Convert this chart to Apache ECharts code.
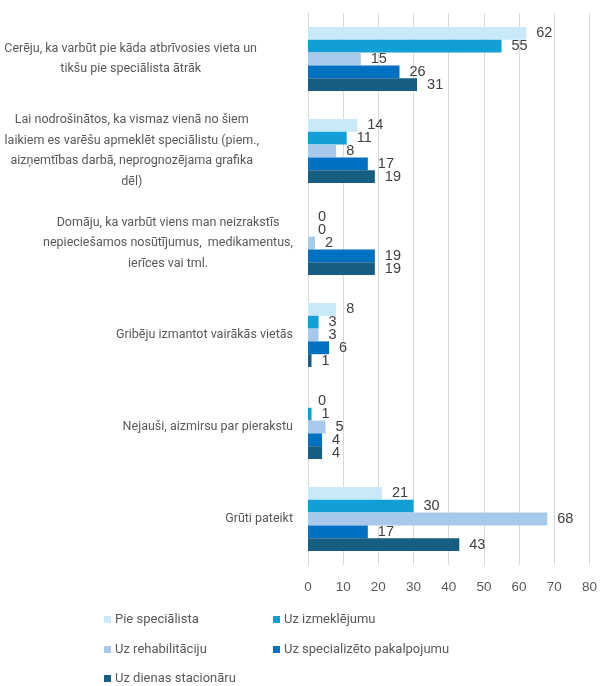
<!DOCTYPE html>
<html>
<head>
<meta charset="utf-8">
<script src="https://cdn.jsdelivr.net/npm/echarts@6/dist/echarts.min.js"></script>
<style>
  html, body { margin: 0; padding: 0; background: #fff; }
  #chart { width: 600px; height: 686px; }
</style>
</head>
<body>
<div id="chart"></div>
<script>
// Reasons categories (each line of a wrapped label is a separate string)
const categories = [
  ['Cerēju, ka varbūt pie kāda atbrīvosies vieta un', 'tikšu pie speciālista ātrāk'],
  ['Lai nodrošinātos, ka vismaz vienā no šiem', 'laikiem es varēšu apmeklēt speciālistu (piem.,', 'aizņemtības darbā, neprognozējama grafika', 'dēl)'],
  ['Domāju, ka varbūt viens man neizrakstīs', 'nepieciešamos nosūtījumus,  medikamentus,', 'ierīces vai tml.'],
  ['Gribēju izmantot vairākās vietās'],
  ['Nejauši, aizmirsu par pierakstu'],
  ['Grūti pateikt']
];

const seriesNames = [
  'Pie speciālista',
  'Uz izmeklējumu',
  'Uz rehabilitāciju',
  'Uz specializēto pakalpojumu',
  'Uz dienas stacionāru'
];

const pieSpecialista   = [62, 14, 0, 8, 0, 21];
const uzIzmeklejumu    = [55, 11, 0, 3, 1, 30];
const uzRehabilitaciju = [15, 8, 2, 3, 5, 68];
const uzSpecializeto   = [26, 17, 19, 6, 4, 17];
const uzDienasStac     = [31, 19, 19, 1, 4, 43];

const xTicks = [0, 10, 20, 30, 40, 50, 60, 70, 80];

const seriesValues = [pieSpecialista, uzIzmeklejumu, uzRehabilitaciju, uzSpecializeto, uzDienasStac];
const colors = ['#C7E9F8', '#129FD6', '#A7C9EB', '#0070C0', '#175F82'];

const labelFont = 'Roboto, "Noto Sans", sans-serif';
const numFont = '"Liberation Sans", Arial, sans-serif';

// extra room kept to the right of a wrapped label block (its text box is wider than its lines)
const labelBoxPad = [36, 34, 0, 0, 0, 0];

const chart = echarts.init(document.getElementById('chart'), null, { renderer: 'canvas' });

const legendPos = [
  { left: 104, top: 613 },
  { left: 273, top: 613 },
  { left: 104, top: 643 },
  { left: 273, top: 643 },
  { left: 104, top: 672 }
];

chart.setOption({
  animation: false,
  backgroundColor: '#ffffff',
  grid: { left: 308, right: 7, top: 13, height: 552, containLabel: false },
  xAxis: {
    type: 'value',
    min: xTicks[0],
    max: xTicks[xTicks.length - 1],
    interval: 10,
    axisLine: { show: false },
    axisTick: { show: false },
    splitLine: { show: true, lineStyle: { color: '#D9D9D9', width: 1 } },
    axisLabel: {
      color: '#595959', fontSize: 13.5, margin: 15,
      fontFamily: numFont,
      showMaxLabel: true
    }
  },
  yAxis: {
    type: 'category',
    inverse: true,
    data: categories.map(c => c.join('\n')),
    axisLine: { show: true, lineStyle: { color: '#D9D9D9' } },
    axisTick: { show: false },
    axisLabel: {
      margin: 15,
      formatter: function (v, idx) {
        const pad = labelBoxPad[idx] || 0;
        return v.split('\n').map(l => '{c|' + l + '}' + (pad ? '{s' + pad + '| }' : '')).join('\n');
      },
      rich: {
        c: {
          align: 'center',
          color: '#595959',
          fontSize: 12.5,
          lineHeight: 20.5,
          fontFamily: labelFont
        },
        s36: { width: 36, fontSize: 12.5, lineHeight: 20.5, fontFamily: labelFont },
        s34: { width: 34, fontSize: 12.5, lineHeight: 20.5, fontFamily: labelFont }
      }
    }
  },
  legend: seriesNames.map((n, i) => ({
    data: [n],
    left: legendPos[i].left,
    top: legendPos[i].top,
    padding: 0,
    itemWidth: 7,
    itemHeight: 7,
    itemGap: 4,
    icon: 'rect',
    selectedMode: false,
    textStyle: { color: '#595959', fontSize: 13, fontFamily: labelFont, padding: [0, 0, 0, -1] }
  })),
  series: seriesNames.map((n, i) => ({
    name: n,
    type: 'bar',
    data: seriesValues[i],
    barWidth: 12.8,
    barGap: '0%',
    itemStyle: { color: colors[i] },
    label: {
      show: true,
      position: 'right',
      distance: 10,
      color: '#404040',
      fontSize: 14.5,
      fontFamily: numFont
    }
  }))
});
</script>
</body>
</html>
